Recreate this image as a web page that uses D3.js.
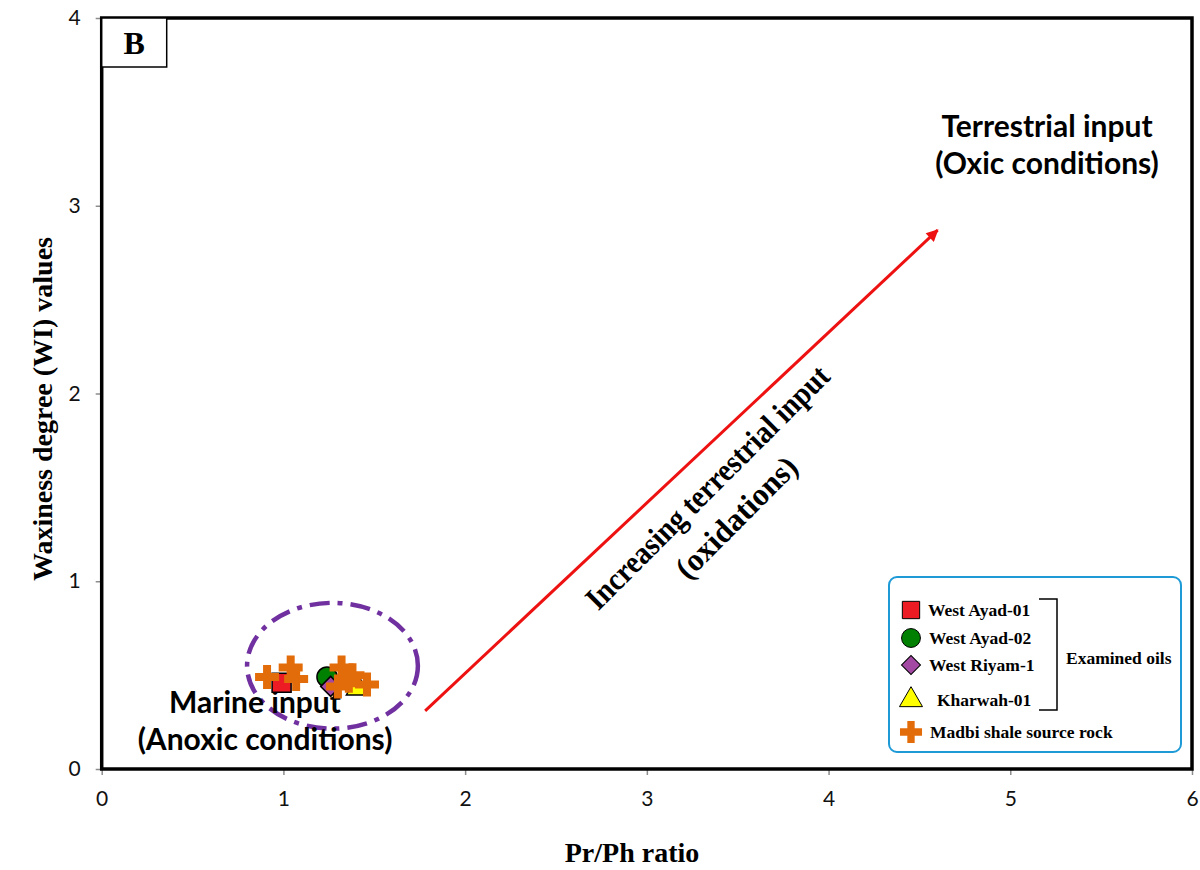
<!DOCTYPE html>
<html>
<head>
<meta charset="utf-8">
<script src="https://cdn.jsdelivr.net/npm/d3@7"></script>
<style>
  html, body { margin: 0; padding: 0; background: #fff; }
</style>
</head>
<body>
<div id="chart"></div>
<script>
// axis ticks
const xTicks = [0, 1, 2, 3, 4, 5, 6];
const yTicks = [0, 1, 2, 3, 4];

// examined oils (one point per well)
const oilNames = ["West Ayad-01", "West Ayad-02", "West Riyam-1", "Kharwah-01"];
const oilPrPh = [0.99, 1.24, 1.26, 1.41];
const oilWI = [0.46, 0.49, 0.44, 0.43];
const oilColors = ["#ed1c24", "#008000", "#a349a4", "#ffff00"];
const oilShapes = ["square", "circle", "diamond", "triangle"];

// Madbi shale source rock samples
const madbiPrPh = [0.91, 1.04, 1.07, 1.30, 1.32, 1.36, 1.38, 1.46];
const madbiWI = [0.49, 0.54, 0.48, 0.44, 0.54, 0.47, 0.50, 0.45];
const madbiColor = "#e36c0a";

const width = 1200, height = 870;

const x = d3.scaleLinear().domain([0, 6]).range([101.7, 1192]);
const y = d3.scaleLinear().domain([0, 4]).range([769, 18]);

const svg = d3.select("#chart").append("svg")
    .attr("width", width)
    .attr("height", height)
    .style("font-family", "Lato, 'Open Sans', sans-serif");

// symbol path for each shape, sized in px^2
const symbolPath = (shape, size) => {
    if (shape === "square") return d3.symbol(d3.symbolSquare, size)();
    if (shape === "circle") return d3.symbol(d3.symbolCircle, size)();
    if (shape === "diamond") return d3.symbol(d3.symbolSquare, size)();
    if (shape === "triangle") return d3.symbol(d3.symbolTriangle, size)();
    return d3.symbol(d3.symbolCross, size)();
};

// axes
const xAxis = svg.append("g")
    .attr("transform", `translate(0,${y(0)})`)
    .call(d3.axisBottom(x).tickValues(xTicks).tickFormat(d3.format("d")).tickSize(6).tickPadding(16));
const yAxis = svg.append("g")
    .attr("transform", `translate(${x(0)},0)`)
    .call(d3.axisLeft(y).tickValues(yTicks).tickFormat(d3.format("d")).tickSize(6).tickPadding(15));

[xAxis, yAxis].forEach(g => {
    g.select(".domain").remove();
    g.selectAll(".tick line").attr("stroke", "#8c8c8c").attr("stroke-width", 1.5);
    g.selectAll(".tick text")
      .attr("fill", "#111")
      .style("font-family", "Lato, 'Open Sans', sans-serif")
      .style("font-size", "21px");
});

// plot frame
svg.append("rect")
    .attr("x", x(0))
    .attr("y", y(4))
    .attr("width", x(6) - x(0))
    .attr("height", y(0) - y(4))
    .attr("fill", "none")
    .attr("stroke", "#000")
    .attr("stroke-width", 3.5);

// panel label
svg.append("rect")
    .attr("x", x(0))
    .attr("y", y(4))
    .attr("width", 65)
    .attr("height", 49)
    .attr("fill", "#fff")
    .attr("stroke", "#000")
    .attr("stroke-width", 1.5);
svg.append("text")
    .attr("x", x(0) + 32.5)
    .attr("y", y(4) + 36)
    .attr("text-anchor", "middle")
    .style("font-family", "'Liberation Serif', 'Times New Roman', serif")
    .style("font-weight", "bold")
    .style("font-size", "32px")
    .text("B");

// axis titles
svg.append("text")
    .attr("x", 632)
    .attr("y", 862)
    .attr("text-anchor", "middle")
    .style("font-family", "'Liberation Serif', 'Times New Roman', serif")
    .style("font-weight", "bold")
    .style("font-size", "28px")
    .text("Pr/Ph ratio");
svg.append("text")
    .attr("transform", "translate(52,409) rotate(-90)")
    .attr("text-anchor", "middle")
    .style("font-family", "'Liberation Serif', 'Times New Roman', serif")
    .style("font-weight", "bold")
    .style("font-size", "28px")
    .text("Waxiness degree (WI) values");

// dash-dot ellipse around the cluster
svg.append("ellipse")
    .attr("cx", x(1.27))
    .attr("cy", y(0.55))
    .attr("rx", x(0.47) - x(0))
    .attr("ry", y(0) - y(0.335))
    .attr("fill", "none")
    .attr("stroke", "#7030a0")
    .attr("stroke-width", 4.5)
    .attr("stroke-dasharray", "20,8,5,8");

// trend arrow
svg.append("defs").append("marker")
    .attr("id", "arrowhead")
    .attr("viewBox", "0 0 10 10")
    .attr("refX", 9)
    .attr("refY", 5)
    .attr("markerWidth", 5)
    .attr("markerHeight", 4)
    .attr("markerUnits", "strokeWidth")
    .attr("orient", "auto")
    .append("path")
    .attr("d", "M0,0 L10,5 L0,10 Z")
    .attr("fill", "#ee1111");

svg.append("line")
    .attr("x1", x(1.78))
    .attr("y1", y(0.31))
    .attr("x2", x(4.6))
    .attr("y2", y(2.87))
    .attr("stroke", "#ee1111")
    .attr("stroke-width", 3)
    .attr("marker-end", "url(#arrowhead)");

// rotated annotation along the arrow
const rot = svg.append("g")
    .style("font-family", "'Liberation Serif', 'Times New Roman', serif")
    .style("font-weight", "bold")
    .style("font-size", "32px")
    .attr("text-anchor", "middle");
rot.append("text")
    .attr("transform", "translate(707,487) rotate(-45)")
    .attr("dy", "0.35em")
    .attr("textLength", 330)
    .attr("lengthAdjust", "spacingAndGlyphs")
    .text("Increasing terrestrial input");
rot.append("text")
    .attr("transform", "translate(736,517) rotate(-45)")
    .attr("dy", "0.35em")
    .attr("textLength", 158)
    .attr("lengthAdjust", "spacingAndGlyphs")
    .text("(oxidations)");

// sans annotations
const note = svg.append("g")
    .style("font-family", "Lato, 'Open Sans', sans-serif")
    .style("font-weight", "bold")
    .style("font-size", "30px")
    .attr("text-anchor", "middle");
note.append("text").attr("x", 1047).attr("y", 137).text("Terrestrial input");
note.append("text").attr("x", 1047).attr("y", 174).text("(Oxic conditions)");
note.append("text").attr("x", 255).attr("y", 713).text("Marine input");
note.append("text").attr("x", 265).attr("y", 750).text("(Anoxic conditions)");

// examined oils
const oils = oilNames.map((n, i) => ({
    name: n, prph: oilPrPh[i], wi: oilWI[i], color: oilColors[i], shape: oilShapes[i]
}));
const oilSize = { square: 361, circle: 320, diamond: 200, triangle: 230 };
svg.append("g")
    .selectAll("path")
    .data(oils)
    .join("path")
    .attr("transform", d => `translate(${x(d.prph)},${y(d.wi)})` + (d.shape === "diamond" ? " rotate(45)" : ""))
    .attr("d", d => symbolPath(d.shape, oilSize[d.shape]))
    .attr("fill", d => d.color)
    .attr("stroke", "#000")
    .attr("stroke-width", 1.5);

// source rock samples
svg.append("g")
    .selectAll("path")
    .data(madbiPrPh.map((v, i) => ({ prph: v, wi: madbiWI[i] })))
    .join("path")
    .attr("transform", d => `translate(${x(d.prph)},${y(d.wi)})`)
    .attr("d", symbolPath("cross", 320))
    .attr("fill", madbiColor);

// legend
const legend = svg.append("g");
legend.append("rect")
    .attr("x", 889)
    .attr("y", 577)
    .attr("width", 292)
    .attr("height", 175)
    .attr("rx", 8)
    .attr("fill", "#fff")
    .attr("stroke", "#1e9bd7")
    .attr("stroke-width", 2);

const legendRows = oils.map((d, i) => ({
    label: d.name, color: d.color, shape: d.shape,
    cy: [610, 638, 665, 700][i], tx: [928, 929, 929, 937][i]
}));
legendRows.push({ label: "Madbi shale source rock", color: madbiColor, shape: "cross", cy: 732, tx: 930 });
const legendSize = { square: 300, circle: 280, diamond: 180, triangle: 230, cross: 270 };

const row = legend.selectAll("g.row")
    .data(legendRows)
    .join("g")
    .attr("class", "row");
row.append("path")
    .attr("transform", d => `translate(911,${d.cy})` + (d.shape === "diamond" ? " rotate(45)" : ""))
    .attr("d", d => symbolPath(d.shape, legendSize[d.shape]))
    .attr("fill", d => d.color)
    .attr("stroke", d => d.shape === "cross" ? "none" : "#000")
    .attr("stroke-width", 1);
row.append("text")
    .attr("x", d => d.tx)
    .attr("y", d => d.cy)
    .attr("dy", "0.35em")
    .style("font-family", "'Liberation Serif', 'Times New Roman', serif")
    .style("font-weight", "bold")
    .style("font-size", "17.5px")
    .text(d => d.label);

legend.append("path")
    .attr("d", "M1039,599 H1057 V710 H1039")
    .attr("fill", "none")
    .attr("stroke", "#000")
    .attr("stroke-width", 1.5);
legend.append("text")
    .attr("x", 1066)
    .attr("y", 658)
    .attr("dy", "0.35em")
    .style("font-family", "'Liberation Serif', 'Times New Roman', serif")
    .style("font-weight", "bold")
    .style("font-size", "17.5px")
    .text("Examined oils");
</script>
</body>
</html>
